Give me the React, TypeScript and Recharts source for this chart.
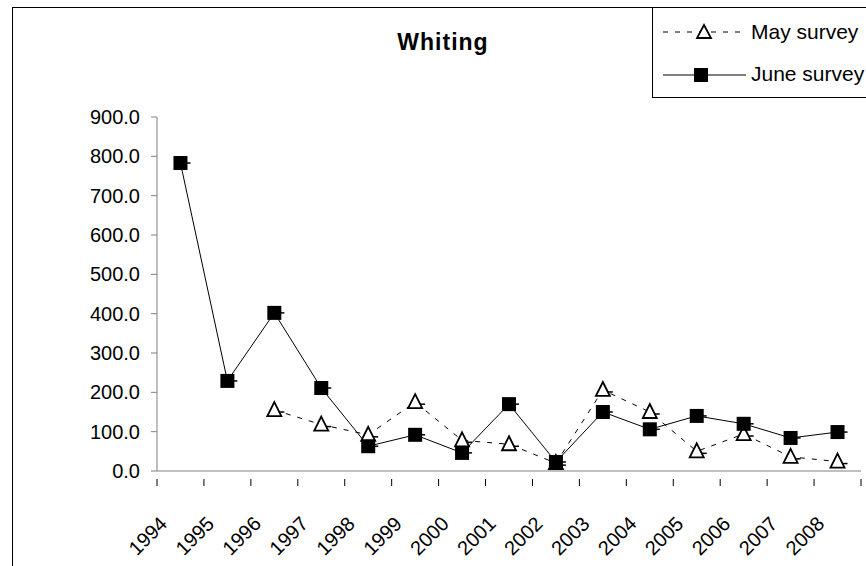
import React from "react";
import { LineChart, Line, XAxis, YAxis } from "recharts";

const years = [1994, 1995, 1996, 1997, 1998, 1999, 2000, 2001, 2002, 2003, 2004, 2005, 2006, 2007, 2008];
const maySurvey = [null, null, 155, 118, 92, 175, 78, 68, 20, 206, 150, 50, 94, 36, 24];
const juneSurvey = [783, 229, 402, 211, 63, 92, 46, 170, 23, 150, 106, 140, 120, 84, 99];
const yTicks = [0, 100, 200, 300, 400, 500, 600, 700, 800, 900];

const data = years.map((y, i) => ({ year: y, may: maySurvey[i], june: juneSurvey[i] }));

const W = 866;
const H = 566;
const margin = { top: 117, right: 5, bottom: 15, left: 77 };
const halfBand = (W - margin.left - 80 - margin.right) / years.length / 2;
const font = "Arial, 'Liberation Sans', sans-serif";

const SquareDot = (props: any) => {
  const { cx, cy, value } = props;
  if (value == null || cx == null) return null;
  return (
    <g>
      <rect x={cx - 7} y={cy - 7} width={14} height={14} fill="#000" />
      <line x1={cx} y1={cy} x2={cx + 10} y2={cy} stroke="#000" strokeWidth={1.5} />
    </g>
  );
};

const TriangleDot = (props: any) => {
  const { cx, cy, value } = props;
  if (value == null || cx == null) return null;
  return (
    <g>
      <line x1={cx} y1={cy + 2} x2={cx + 10} y2={cy + 2} stroke="#000" strokeWidth={1.5} />
      <path d={`M${cx},${cy - 8} L${cx + 7},${cy + 6} L${cx - 7},${cy + 6} Z`} fill="#fff" stroke="#000" strokeWidth={1.8} />
    </g>
  );
};

const YearTick = (props: any) => {
  const { x, y, payload, index } = props;
  const last = index === years.length - 1;
  const ax = x - 12;
  const ay = y + 46;
  return (
    <g>
      <line x1={x - halfBand} y1={y} x2={x - halfBand} y2={y + 7} stroke="#000" />
      {last && <line x1={x + halfBand} y1={y} x2={x + halfBand} y2={y + 7} stroke="#000" />}
      <text x={ax} y={ay} textAnchor="end" fontSize={20} fill="#000" fontFamily={font}
        transform={`rotate(-45 ${ax} ${ay})`}>
        {payload.value}
      </text>
    </g>
  );
};

const LegendBox = () => (
  <div style={{
    position: "absolute", left: 652, top: 7, width: 240, height: 89,
    border: "1px solid #000", background: "#fff",
  }}>
    <svg width={240} height={89} style={{ position: "absolute", left: 0, top: 0 }}>
      <line x1={10} y1={24} x2={93} y2={24} stroke="#000" strokeDasharray="5 7" />
      <path d="M51,17 L58,30 L44,30 Z" fill="#fff" stroke="#000" strokeWidth={1.8} />
      <text x={98} y={31} fontSize={21} fontFamily={font}>May survey</text>
      <line x1={10} y1={67} x2={93} y2={67} stroke="#000" />
      <rect x={41} y={60} width={14} height={14} fill="#000" />
      <text x={98} y={73} fontSize={21} fontFamily={font}>June survey</text>
    </svg>
  </div>
);

export default function App() {
  return (
    <div style={{ position: "fixed", left: 0, top: 0, width: W, height: H, overflow: "hidden", background: "#fff" }}>
      <div style={{ position: "absolute", left: 12, top: 7, width: 900, height: 600, border: "1px solid #000" }} />
      <svg width={W} height={70} style={{ position: "absolute", left: 0, top: 0 }}>
        <text x={443} y={50} textAnchor="middle" fontSize={23} fontWeight="bold" letterSpacing={1} fontFamily={font}>
          Whiting
        </text>
      </svg>
      <div style={{ position: "absolute", left: 0, top: 0 }}>
        <LineChart width={W} height={H} data={data} margin={margin}>
          <XAxis dataKey="year" scale="band" interval={0} height={80} tickLine={false}
            axisLine={{ stroke: "#808080" }} tick={<YearTick />} />
          <YAxis domain={[0, 900]} ticks={yTicks} width={80} tickSize={6} tickMargin={11}
            axisLine={{ stroke: "#808080" }} tickLine={{ stroke: "#808080" }}
            tickFormatter={(v: number) => v.toFixed(1)}
            tick={{ fontSize: 20, fill: "#000", fontFamily: font }} />
          <Line dataKey="may" stroke="#000" strokeWidth={1} strokeDasharray="5 7"
            dot={<TriangleDot />} isAnimationActive={false} connectNulls={false} />
          <Line dataKey="june" stroke="#000" strokeWidth={1}
            dot={<SquareDot />} isAnimationActive={false} />
        </LineChart>
      </div>
      <LegendBox />
    </div>
  );
}
